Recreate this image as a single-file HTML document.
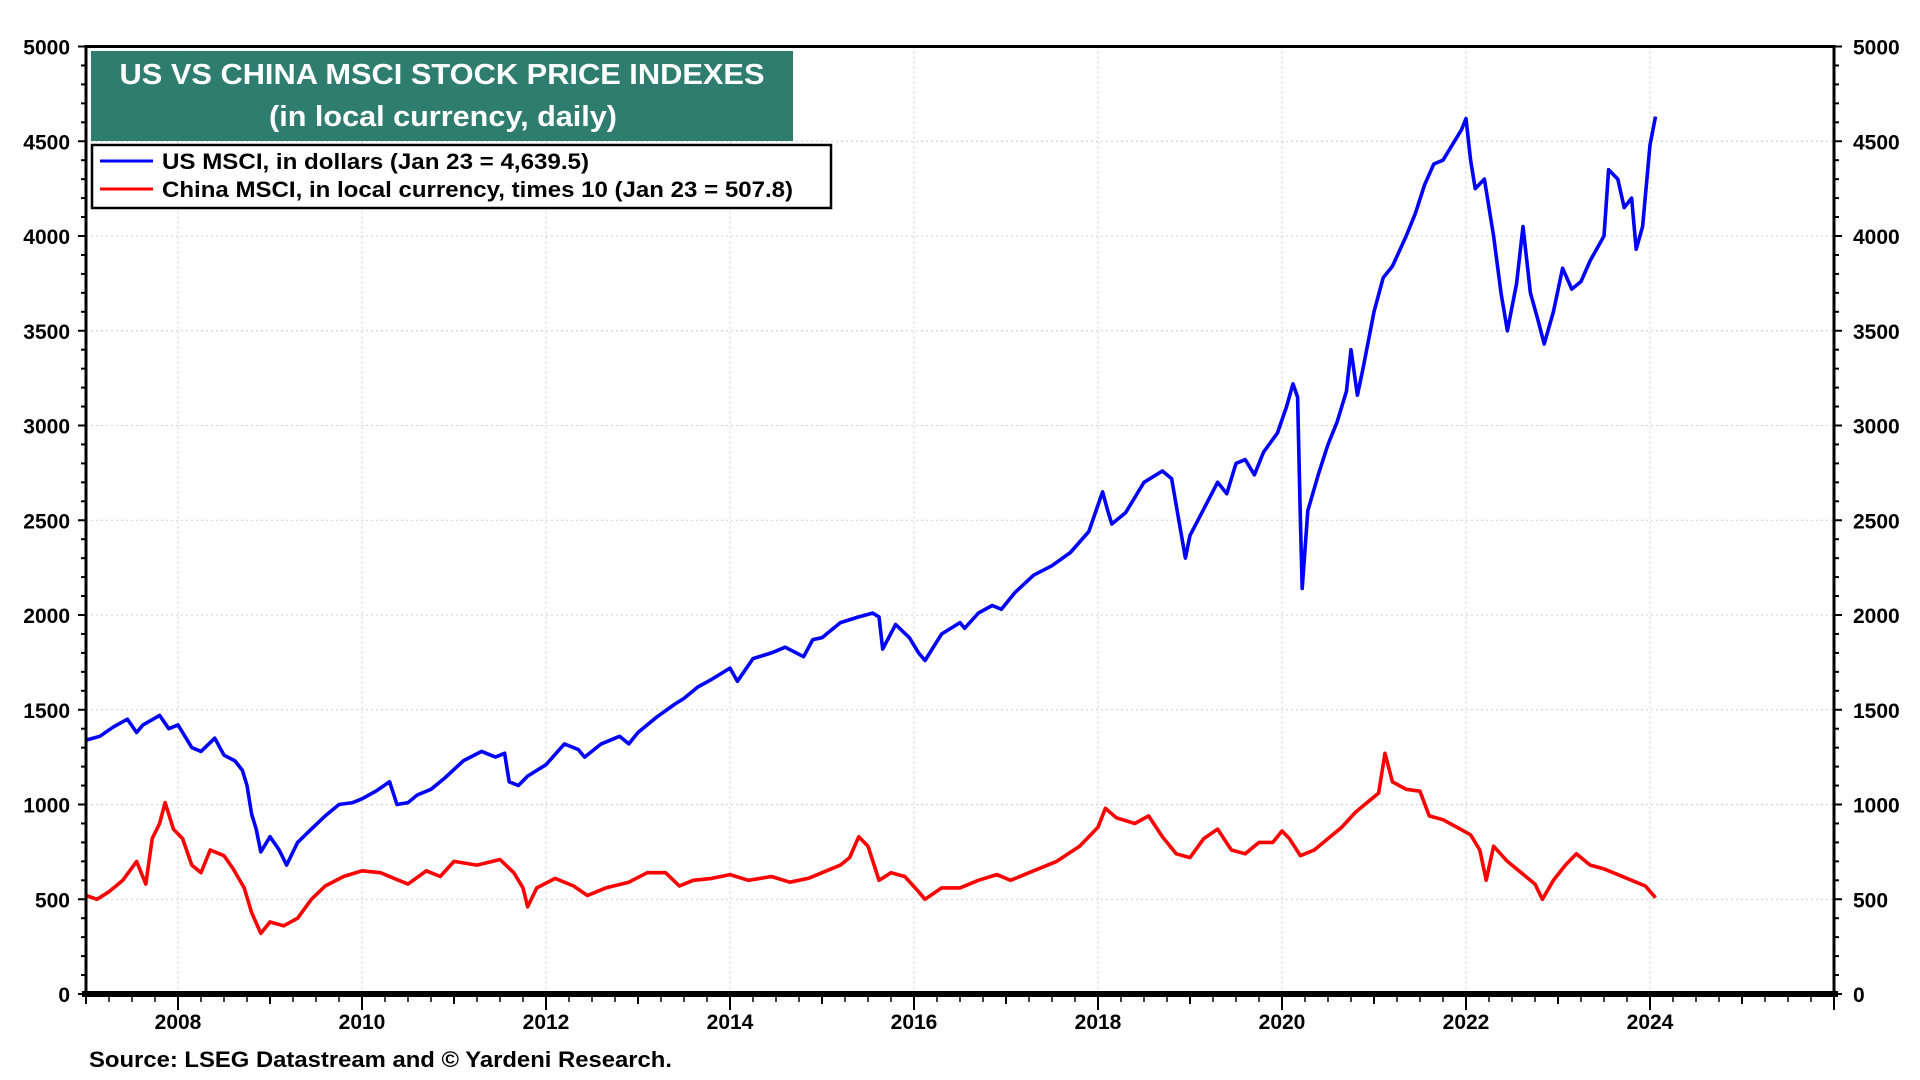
<!DOCTYPE html>
<html><head><meta charset="utf-8"><style>
html,body{margin:0;padding:0;background:#fff;}
svg{display:block;font-family:"Liberation Sans",sans-serif;font-weight:bold;}
</style></head><body>
<svg id="chart" width="1920" height="1080" viewBox="0 0 1920 1080" xmlns="http://www.w3.org/2000/svg">
<g id="grid"></g>
<g id="series"></g>
<g id="axes"></g>
<rect x="91" y="51" width="702" height="90" fill="#2e7d6f"/>
<text x="442" y="84" fill="#fff" font-size="29" text-anchor="middle" textLength="645" lengthAdjust="spacingAndGlyphs">US VS CHINA MSCI STOCK PRICE INDEXES</text>
<text x="443" y="126" fill="#fff" font-size="29" text-anchor="middle" textLength="348" lengthAdjust="spacingAndGlyphs">(in local currency, daily)</text>
<g>
<rect x="92" y="145" width="739" height="63" fill="#fff" stroke="#000" stroke-width="2.5"/>
<line x1="100" y1="161" x2="153" y2="161" stroke="#0000ff" stroke-width="3"/>
<text x="162" y="169" font-size="22" textLength="427" lengthAdjust="spacingAndGlyphs">US MSCI, in dollars (Jan 23 = 4,639.5)</text>
<line x1="100" y1="189" x2="153" y2="189" stroke="#ff0000" stroke-width="3"/>
<text x="162" y="197" font-size="22" textLength="631" lengthAdjust="spacingAndGlyphs">China MSCI, in local currency, times 10 (Jan 23 = 507.8)</text>
</g>
<text x="89" y="1067" font-size="22" textLength="583" lengthAdjust="spacingAndGlyphs">Source: LSEG Datastream and © Yardeni Research.</text>
</svg>
<script>
const usDates=[2007.0,2007.15,2007.3,2007.45,2007.55,2007.62,2007.8,2007.9,2008.0,2008.15,2008.25,2008.4,2008.5,2008.62,2008.7,2008.75,2008.8,2008.85,2008.9,2009.0,2009.1,2009.18,2009.3,2009.45,2009.6,2009.75,2009.9,2010.0,2010.15,2010.3,2010.38,2010.5,2010.6,2010.75,2010.9,2011.1,2011.3,2011.45,2011.55,2011.6,2011.7,2011.8,2012.0,2012.2,2012.35,2012.42,2012.6,2012.8,2012.9,2013.0,2013.2,2013.4,2013.5,2013.65,2013.8,2014.0,2014.08,2014.25,2014.45,2014.6,2014.8,2014.9,2015.0,2015.2,2015.4,2015.55,2015.62,2015.66,2015.8,2015.95,2016.05,2016.12,2016.3,2016.5,2016.55,2016.7,2016.85,2016.95,2017.1,2017.3,2017.5,2017.7,2017.9,2018.05,2018.1,2018.15,2018.3,2018.5,2018.7,2018.8,2018.85,2018.95,2019.0,2019.15,2019.3,2019.4,2019.5,2019.6,2019.7,2019.8,2019.95,2020.05,2020.12,2020.17,2020.2,2020.22,2020.28,2020.4,2020.5,2020.6,2020.7,2020.75,2020.82,2020.88,2021.0,2021.1,2021.2,2021.35,2021.45,2021.55,2021.65,2021.75,2021.85,2021.95,2022.0,2022.05,2022.1,2022.2,2022.3,2022.38,2022.45,2022.55,2022.62,2022.7,2022.78,2022.85,2022.95,2023.05,2023.15,2023.25,2023.35,2023.5,2023.55,2023.65,2023.72,2023.8,2023.85,2023.92,2024.0,2024.06];
const usValues=[1340,1360,1410,1450,1380,1420,1470,1400,1420,1300,1280,1350,1260,1230,1180,1100,950,870,750,830,760,680,800,870,940,1000,1010,1030,1070,1120,1000,1010,1050,1080,1140,1230,1280,1250,1270,1120,1100,1150,1210,1320,1290,1250,1320,1360,1320,1380,1460,1530,1560,1620,1660,1720,1650,1770,1800,1830,1780,1870,1880,1960,1990,2010,1990,1820,1950,1880,1800,1760,1900,1960,1930,2010,2050,2030,2120,2210,2260,2330,2440,2650,2560,2480,2540,2700,2760,2720,2580,2300,2420,2560,2700,2640,2800,2820,2740,2860,2960,3100,3220,3150,2500,2140,2550,2750,2900,3020,3180,3400,3160,3300,3600,3780,3840,4000,4120,4270,4380,4400,4480,4560,4620,4400,4250,4300,4000,3700,3500,3750,4050,3700,3560,3430,3600,3830,3720,3760,3870,4000,4350,4300,4150,4200,3930,4050,4480,4630];
const cnDates=[2007.0,2007.12,2007.25,2007.4,2007.55,2007.65,2007.72,2007.8,2007.86,2007.95,2008.05,2008.15,2008.25,2008.35,2008.5,2008.6,2008.72,2008.8,2008.9,2009.0,2009.15,2009.3,2009.45,2009.6,2009.8,2010.0,2010.2,2010.35,2010.5,2010.7,2010.85,2011.0,2011.25,2011.5,2011.65,2011.75,2011.8,2011.9,2012.1,2012.3,2012.45,2012.65,2012.9,2013.1,2013.3,2013.45,2013.6,2013.8,2014.0,2014.2,2014.45,2014.65,2014.85,2015.05,2015.2,2015.3,2015.4,2015.5,2015.62,2015.75,2015.9,2016.05,2016.12,2016.3,2016.5,2016.7,2016.9,2017.05,2017.3,2017.55,2017.8,2018.0,2018.08,2018.2,2018.4,2018.55,2018.7,2018.85,2019.0,2019.15,2019.3,2019.45,2019.6,2019.75,2019.9,2020.0,2020.08,2020.2,2020.35,2020.5,2020.65,2020.8,2020.95,2021.05,2021.12,2021.2,2021.35,2021.5,2021.6,2021.75,2021.9,2022.05,2022.15,2022.22,2022.3,2022.45,2022.6,2022.75,2022.83,2022.95,2023.08,2023.2,2023.35,2023.5,2023.65,2023.8,2023.95,2024.06];
const cnValues=[520,500,540,600,700,580,820,900,1010,870,820,680,640,760,730,660,560,430,320,380,360,400,500,570,620,650,640,610,580,650,620,700,680,710,640,560,460,560,610,570,520,560,590,640,640,570,600,610,630,600,620,590,610,650,680,720,830,780,600,640,620,540,500,560,560,600,630,600,650,700,780,880,980,930,900,940,830,740,720,820,870,760,740,800,800,860,820,730,760,820,880,960,1020,1060,1270,1120,1080,1070,940,920,880,840,760,600,780,700,640,580,500,600,680,740,680,660,630,600,570,508];
const yTicks=[0,500,1000,1500,2000,2500,3000,3500,4000,4500,5000];
const xTickLabels=[2008,2010,2012,2014,2016,2018,2020,2022,2024];

const L=86,R=1834,T=46.5,B=994,X0=2007.0,X1=2026.0,YMAX=5000;
const xs=v=>L+(v-X0)/(X1-X0)*(R-L);
const ys=v=>B-v/YMAX*(B-T);
const NS="http://www.w3.org/2000/svg";
function mk(tag,attrs,parent){const e=document.createElementNS(NS,tag);for(const k in attrs)e.setAttribute(k,attrs[k]);parent.appendChild(e);return e;}
const grid=document.getElementById('grid'),axes=document.getElementById('axes'),series=document.getElementById('series');

yTicks.forEach(v=>{
  if(v>0&&v<YMAX){const g=mk('line',{x1:L,x2:R,y1:ys(v),y2:ys(v),stroke:'#cfcfcf','stroke-width':1,'stroke-dasharray':'2,3'},grid);
  
  }
  const t1=mk('text',{x:70,y:ys(v)+8,'font-size':21,'text-anchor':'end'},axes);t1.textContent=v;
  
  
  const t2=mk('text',{x:1853,y:ys(v)+8,'font-size':21,'text-anchor':'start'},axes);t2.textContent=v;
  
  
});
for(let v=0;v<=YMAX;v+=100){
  const len=v%500===0?8:5;
  mk('line',{x1:L-len,x2:L,y1:ys(v),y2:ys(v),stroke:'#000','stroke-width':2},axes);
  mk('line',{x1:R,x2:R+len,y1:ys(v),y2:ys(v),stroke:'#000','stroke-width':2},axes);
}
xTickLabels.forEach(v=>{
  const g=mk('line',{x1:xs(v),x2:xs(v),y1:T,y2:B,stroke:'#cfcfcf','stroke-width':1,'stroke-dasharray':'2,3'},grid);
  
  
  const t=mk('text',{x:xs(v),y:1029,'font-size':21,'text-anchor':'middle'},axes);t.textContent=v;
  
  
});
for(let q=X0*4;q<=X1*4;q++){
  const v=q/4;const major=q%4===0;
  mk('line',{x1:xs(v),x2:xs(v),y1:B,y2:B+(major?(Math.round(v)%2===0?16:10):8),stroke:'#000','stroke-width':major?2:1.5},axes);
}
const frame=mk('rect',{x:L,y:T,width:R-L,height:B-T,fill:'none',stroke:'#000','stroke-width':3},axes);


mk('line',{x1:L-4,x2:R+4,y1:B,y2:B,stroke:'#000','stroke-width':6},axes);

function path(d,v){return d.map((x,i)=>(i?'L':'M')+xs(x).toFixed(1)+','+ys(v[i]).toFixed(1)).join('');}
const cn=mk('path',{d:path(cnDates,cnValues),fill:'none',stroke:'#ff0000','stroke-width':3.6,'stroke-linejoin':'round'},series);


const us=mk('path',{d:path(usDates,usValues),fill:'none',stroke:'#0000ff','stroke-width':3.6,'stroke-linejoin':'round'},series);


</script>
</body></html>
